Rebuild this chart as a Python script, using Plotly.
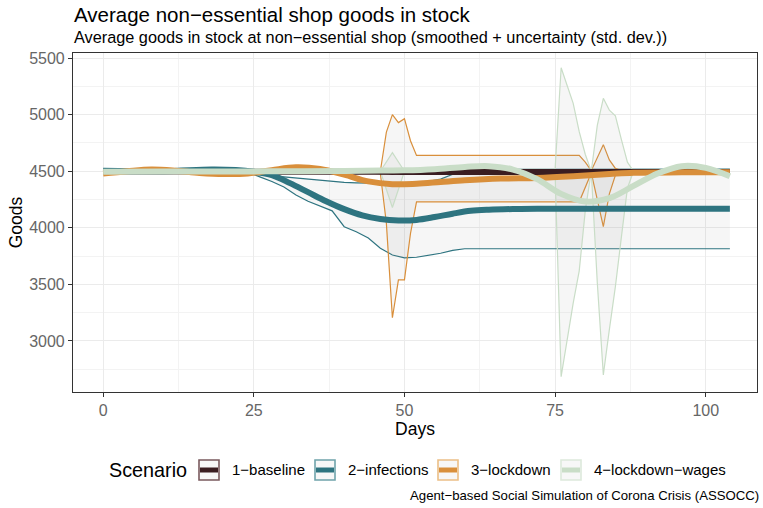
import plotly.graph_objects as go

# ---- data -------------------------------------------------------------
scenarios = ["1\u2212baseline", "2\u2212infections", "3\u2212lockdown", "4\u2212lockdown\u2212wages"]
colors = ["#3a1d21", "#2e7480", "#d98f3b", "#c9ddc7"]
key_borders = ["#7a5a5e", "#6fa3ab", "#ecbf86", "#dde9db"]

# smoothed mean per scenario (days / goods)
baseline_smooth_days = [0, 10, 20, 30, 40, 50, 60, 70, 80, 90, 104]
baseline_smooth = [4498, 4498, 4497, 4496, 4495, 4494, 4494, 4494, 4494, 4494, 4494]
infections_smooth_days = [0, 10, 18, 22, 25, 28, 31, 34, 37, 40, 43, 46, 49, 52, 55, 58, 61, 64, 68, 72, 80, 90, 104]
infections_smooth = [4505, 4500, 4515, 4510, 4495, 4465, 4395, 4315, 4235, 4165, 4110, 4078, 4065, 4070, 4095, 4125, 4150, 4160, 4166, 4168, 4168, 4168, 4168]
lockdown_smooth_days = [0, 4, 8, 12, 16, 20, 24, 28, 32, 36, 40, 44, 48, 52, 56, 60, 66, 72, 78, 84, 88, 96, 104]
lockdown_smooth = [4480, 4500, 4515, 4505, 4485, 4475, 4480, 4510, 4535, 4520, 4470, 4410, 4385, 4390, 4405, 4420, 4435, 4440, 4455, 4475, 4487, 4490, 4490]
wages_smooth_days = [0, 10, 20, 30, 40, 46, 50, 55, 60, 64, 68, 72, 76, 80, 84, 88, 92, 96, 100, 104]
wages_smooth = [4495, 4497, 4497, 4500, 4503, 4506, 4508, 4518, 4538, 4545, 4515, 4430, 4300, 4232, 4262, 4370, 4480, 4545, 4530, 4455]

# mean +/- std. dev. band per scenario
baseline_band_days = [0, 46, 48, 50, 52, 75, 77, 78, 79, 81, 83, 84, 86, 88, 104]
baseline_upper = [4500, 4500, 4522, 4502, 4500, 4500, 4505, 4510, 4505, 4500, 4505, 4510, 4505, 4500, 4500]
baseline_lower = [4500, 4500, 4472, 4498, 4495, 4495, 4470, 4462, 4480, 4500, 4478, 4472, 4485, 4495, 4495]

infections_band_days = [0, 24, 26, 28, 30, 32, 34, 36, 38, 40, 42, 44, 46, 48, 50, 52, 54, 56, 58, 60, 104]
infections_upper = [4510, 4510, 4480, 4460, 4450, 4440, 4430, 4420, 4410, 4402, 4398, 4395, 4392, 4392, 4395, 4400, 4410, 4430, 4470, 4515, 4520]
infections_lower = [4490, 4490, 4450, 4410, 4360, 4290, 4235, 4190, 4150, 4010, 3965, 3910, 3820, 3760, 3735, 3740, 3755, 3775, 3800, 3815, 3815]

lockdown_band_days = [0, 46, 47, 48, 49, 50, 51, 52, 79, 80, 81, 82, 83, 84, 85, 86, 88, 104]
lockdown_upper = [4495, 4500, 4846, 5000, 4930, 4965, 4770, 4640, 4640, 4580, 4505, 4620, 4735, 4600, 4525, 4505, 4495, 4492]
lockdown_lower = [4480, 4480, 4040, 3205, 3540, 3540, 3950, 4230, 4230, 4360, 4485, 4250, 4010, 4300, 4465, 4480, 4490, 4488]

wages_band_days = [0, 46, 48, 50, 75, 76, 78, 79, 80, 81, 82, 83, 84, 85, 86, 87, 88, 104]
wages_upper = [4500, 4500, 4665, 4500, 4520, 5415, 5100, 4850, 4650, 4500, 4905, 5145, 5040, 4990, 4780, 4580, 4500, 4500]
wages_lower = [4500, 4500, 4180, 4500, 4480, 2685, 3335, 3620, 4150, 4500, 3515, 2700, 3100, 3480, 3920, 4350, 4500, 4500]

x_ticks = [0, 25, 50, 75, 100]
y_ticks = [3000, 3500, 4000, 4500, 5000, 5500]

smooths = [
    (baseline_smooth_days, baseline_smooth),
    (infections_smooth_days, infections_smooth),
    (lockdown_smooth_days, lockdown_smooth),
    (wages_smooth_days, wages_smooth),
]
bands = [
    (baseline_band_days, baseline_upper, baseline_lower),
    (infections_band_days, infections_upper, infections_lower),
    (lockdown_band_days, lockdown_upper, lockdown_lower),
    (wages_band_days, wages_upper, wages_lower),
]

# ---- figure -----------------------------------------------------------
W, H = 763, 508
PL, PR, PT, PB = 73, 757, 53, 392


def px(x):
    return (x - PL) / (PR - PL)


def py(y):
    return (PB - y) / (PB - PT)


fig = go.Figure()

# uncertainty ribbons
for name, col, (d, up, lo) in zip(scenarios, colors, bands):
    fig.add_trace(go.Scatter(x=d, y=lo, mode="lines", line=dict(color=col, width=1.2),
                             showlegend=False, hoverinfo="skip"))
    fig.add_trace(go.Scatter(x=d, y=up, mode="lines", line=dict(color=col, width=1.2),
                             fill="tonexty", fillcolor="rgba(150,150,150,0.09)",
                             showlegend=False, hoverinfo="skip"))

# smoothed means
for name, col, (d, v) in zip(scenarios, colors, smooths):
    fig.add_trace(go.Scatter(x=d, y=v, mode="lines", name=name,
                             line=dict(color=col, width=6, shape="spline", smoothing=1.0),
                             showlegend=False))

font = "Liberation Sans, Arial, sans-serif"
ann = []
shapes = []

# title and subtitle
ann.append(dict(text="Average non\u2212essential shop goods in stock", x=px(72), y=py(15),
                xref="paper", yref="paper", xanchor="left", yanchor="middle",
                showarrow=False, font=dict(size=20.5, color="black", family=font)))
ann.append(dict(text="Average goods in stock at non\u2212essential shop (smoothed + uncertainty (std. dev.))",
                x=px(72), y=py(37), xref="paper", yref="paper", xanchor="left", yanchor="middle",
                showarrow=False, font=dict(size=16.3, color="black", family=font)))
# caption
ann.append(dict(text="Agent\u2212based Social Simulation of Corona Crisis (ASSOCC)", x=px(761), y=py(496),
                xref="paper", yref="paper", xanchor="right", yanchor="middle",
                showarrow=False, font=dict(size=13.2, color="black", family=font)))

# legend
ann.append(dict(text="Scenario", x=px(107), y=py(470), xref="paper", yref="paper",
                xanchor="left", yanchor="middle", showarrow=False,
                font=dict(size=19.8, color="black", family=font)))
key_x = [199, 315, 438, 561]
for name, col, bcol, kx in zip(scenarios, colors, key_borders, key_x):
    shapes.append(dict(type="rect", xref="paper", yref="paper",
                       x0=px(kx), x1=px(kx + 20), y0=py(480), y1=py(460),
                       line=dict(color=bcol, width=1.6), fillcolor="#f7f7f7"))
    shapes.append(dict(type="line", xref="paper", yref="paper",
                       x0=px(kx + 1), x1=px(kx + 19), y0=py(470), y1=py(470),
                       line=dict(color=col, width=5)))
    ann.append(dict(text=name, x=px(kx + 31), y=py(470), xref="paper", yref="paper",
                    xanchor="left", yanchor="middle", showarrow=False,
                    font=dict(size=15, color="black", family=font)))

axis_common = dict(
    showline=True, linecolor="#333333", linewidth=1.1, mirror=True,
    ticks="outside", ticklen=4, tickcolor="#333333", tickwidth=1,
    showgrid=True, gridcolor="#ebebeb", gridwidth=1.1,
    zeroline=False,
    tickfont=dict(size=16, color="#666666", family=font),
)

fig.update_layout(
    width=W, height=H,
    margin=dict(l=PL, r=W - PR, t=PT, b=H - PB),
    paper_bgcolor="white", plot_bgcolor="white",
    showlegend=False,
    annotations=ann, shapes=shapes,
    xaxis=dict(range=[-5.0, 108.5], tickvals=x_ticks, **axis_common,
               minor=dict(tickvals=[-12.5, 12.5, 37.5, 62.5, 87.5], showgrid=True,
                          gridcolor="#f3f3f3", gridwidth=0.6),
               title=dict(text="Days", standoff=2,
                          font=dict(size=17.5, color="black", family=font))),
    yaxis=dict(range=[2549, 5545], tickvals=y_ticks, **axis_common,
               minor=dict(tickvals=[2750, 3250, 3750, 4250, 4750, 5250], showgrid=True,
                          gridcolor="#f3f3f3", gridwidth=0.6),
               title=dict(text="Goods", standoff=2,
                          font=dict(size=17.5, color="black", family=font))),
)

fig.write_html("out.html")
